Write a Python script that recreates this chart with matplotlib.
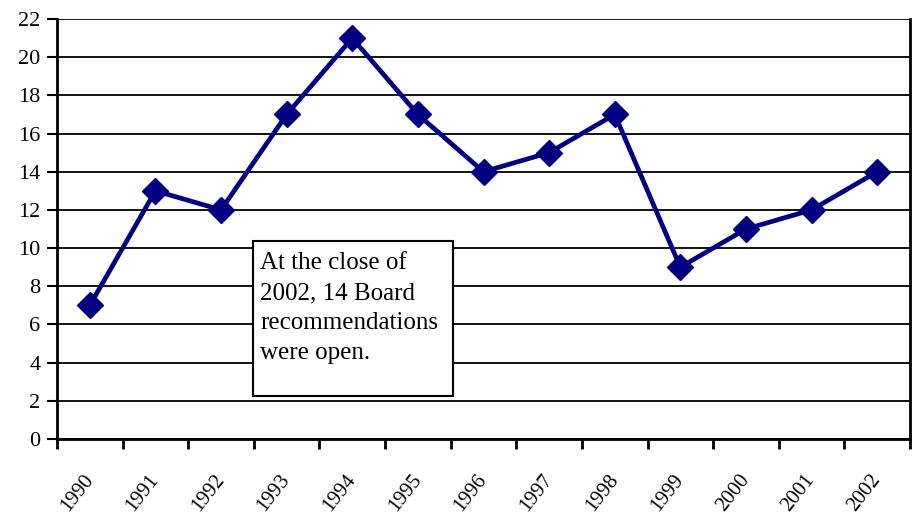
import matplotlib.pyplot as plt
import matplotlib.transforms as mtransforms
import numpy as np

years = ["1990", "1991", "1992", "1993", "1994", "1995", "1996",
         "1997", "1998", "1999", "2000", "2001", "2002"]
open_recs = [7, 13, 12, 17, 21, 17, 14, 15, 17, 9, 11, 12, 14]
y_ticks = list(range(0, 23, 2))

plt.rcParams["font.family"] = ["Liberation Serif", "DejaVu Serif"]

fig = plt.figure(figsize=(9.17, 5.16), dpi=100)
ax = fig.add_axes([57 / 917, 1 - 439 / 516, 853 / 917, 420 / 516])

x = np.arange(len(years))
ax.plot(x, open_recs, color="#000080", lw=3.4, marker="D", ms=13,
        markerfacecolor="#000080", markeredgecolor="#000080", zorder=3, clip_on=False)

ax.set_xlim(-0.5, len(years) - 0.5)
ax.set_ylim(0, 22)
ax.set_yticks(y_ticks)
ax.set_yticklabels([str(v) for v in y_ticks], fontsize=16)
ax.yaxis.grid(True, color="black", lw=1.3)
ax.set_axisbelow(True)

# boundary ticks (marks only), centre ticks (labels only)
ax.set_xticks(np.arange(-0.5, len(years), 1.0))
ax.set_xticklabels([])
ax.set_xticks(x, minor=True)
ax.set_xticklabels(years, minor=True, rotation=52, ha="right", va="center",
                   rotation_mode="anchor", fontsize=15)
shift = mtransforms.ScaledTranslation(-10 / 100, 0, fig.dpi_scale_trans)
for lbl in ax.get_xticklabels(minor=True):
    lbl.set_transform(lbl.get_transform() + shift)
ax.tick_params(axis="x", which="major", length=7, width=2, direction="out")
ax.tick_params(axis="x", which="minor", length=0, pad=27)
ax.tick_params(axis="y", length=7, width=1.5, direction="out", pad=5)

for s in ["left", "bottom", "right"]:
    ax.spines[s].set_linewidth(2)
ax.spines["top"].set_visible(False)

# annotation box
box_l, box_b, box_r, box_t = 253, 396, 453, 241
fig.patches.append(plt.Rectangle((box_l / 917, 1 - box_b / 516),
                                 (box_r - box_l) / 917, (box_b - box_t) / 516,
                                 transform=fig.transFigure, facecolor="white",
                                 edgecolor="black", lw=1.5, zorder=5))
fig.text(260 / 917, 1 - 252 / 516,
         "At the close of\n2002, 14 Board\nrecommendations\nwere open.",
         fontsize=18, ha="left", va="top", linespacing=1.48, zorder=6)

plt.savefig("out.png", dpi=100)
